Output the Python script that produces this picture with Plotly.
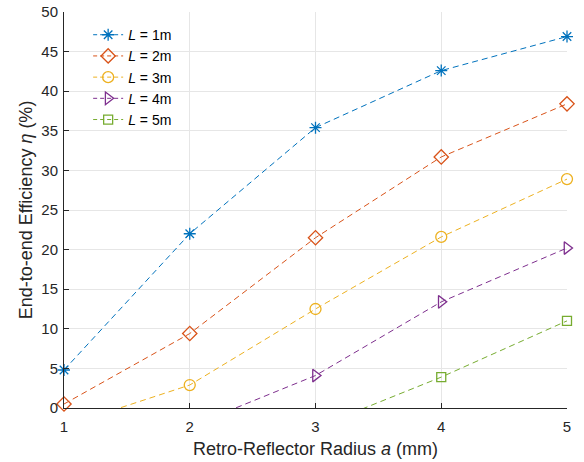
import plotly.graph_objects as go

radius = [1, 2, 3, 4, 5]
labels = ["1m", "2m", "3m", "4m", "5m"]
eff_L1 = [4.8, 22.0, 35.4, 42.6, 46.9]
eff_L2 = [0.5, 9.4, 21.5, 31.7, 38.4]
eff_L3 = [-2.3, 2.9, 12.5, 21.6, 28.9]
eff_L4 = [None, -2.35, 4.1, 13.4, 20.2]
eff_L5 = [None, None, -2.5, 3.9, 11.0]

series = [eff_L1, eff_L2, eff_L3, eff_L4, eff_L5]
colors = ["#0072BD", "#D95319", "#EDB120", "#7E2F8E", "#77AC30"]
symbols = ["asterisk-open", "diamond-open", "circle-open", "triangle-right-open", "square-open"]
sizes = [10, 11, 11, 11, 9]
dash = "6px,4px"

fig = go.Figure()
for vals, lab, c, s, sz in zip(series, labels, colors, symbols, sizes):
    mk = dict(symbol=s, size=sz, color=c, line=dict(color=c, width=1.3))
    # full dashed line (clipped at axis)
    fig.add_trace(go.Scatter(x=radius, y=vals, mode="lines", showlegend=False,
                             line=dict(color=c, width=1, dash=dash), hoverinfo="skip"))
    # visible markers, not clipped
    xs = [x for x, v in zip(radius, vals) if v is not None and v >= 0]
    ys = [v for v in vals if v is not None and v >= 0]
    fig.add_trace(go.Scatter(x=xs, y=ys, mode="markers", showlegend=False,
                             cliponaxis=False, marker=mk))
    # legend entry
    fig.add_trace(go.Scatter(x=[None], y=[None], mode="lines+markers", name=f"<i>L</i> = {lab}",
                             line=dict(color=c, width=1, dash="4px,3px"), marker=mk))

axis_common = dict(showgrid=True, gridcolor="#E6E6E6", gridwidth=1, zeroline=False,
                   showline=True, linecolor="#262626", linewidth=1,
                   ticks="inside", ticklen=5, tickcolor="#262626",
                   tickfont=dict(size=15, color="#262626", family="Liberation Sans, Arial"),
                   mirror=False, automargin=False)

fig.update_layout(
    width=584, height=462,
    margin=dict(l=64, r=17, t=12, b=54),
    paper_bgcolor="white", plot_bgcolor="white",
    font=dict(family="Liberation Sans, Arial", color="#262626"),
    xaxis=dict(range=[1, 5], tickvals=radius, ticklabelstandoff=5, **axis_common,
               title=dict(text="Retro-Reflector Radius <i>a</i> (mm)", font=dict(size=18, color="#262626"), standoff=8)),
    yaxis=dict(range=[0, 50], dtick=5, ticklabelstandoff=2, **axis_common,
               title=dict(text="End-to-end Efficiency <i>η</i> (%)", font=dict(size=18, color="#262626"), standoff=4)),
    legend=dict(x=0.048, y=0.982, xanchor="left", yanchor="top", bgcolor="rgba(0,0,0,0)",
                font=dict(size=14, color="#000000"), tracegroupgap=0, itemwidth=30),
)

fig.write_html("out.html", config={"displayModeBar": False},
               post_script="document.body.style.margin='0';")
